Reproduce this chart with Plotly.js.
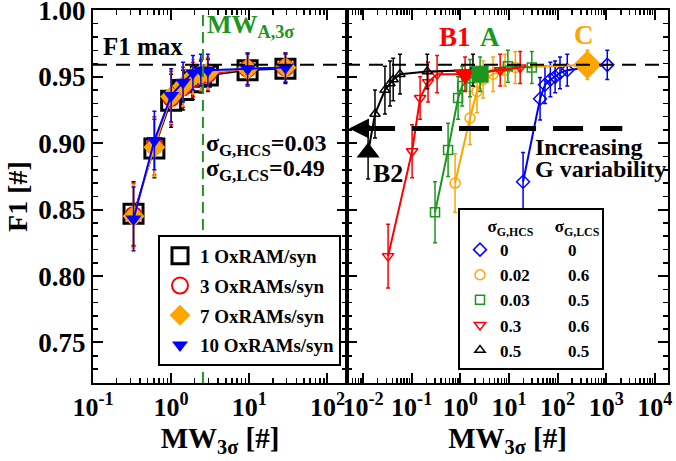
<!DOCTYPE html>
<html><head><meta charset="utf-8">
<script src="https://cdn.plot.ly/plotly-3.0.1.min.js"></script>
<style>html,body{margin:0;padding:0;background:#fff;}#chart{width:676px;height:461px;}</style>
</head><body><div id="chart"></div>
<script>
// ---------- Left panel: F1 vs MW_3sigma for several OxRAMs per synapse ----------
const leftNames = ['1 OxRAM/syn', '3 OxRAMs/syn', '7 OxRAMs/syn', '10 OxRAMs/syn'];
const leftX = [0.33, 0.61, 1.0, 1.42, 1.9, 2.4, 2.95, 9.5, 29];
const f1One = [0.847, 0.896, 0.932, 0.940, 0.946, 0.950, 0.951, 0.955, 0.956];
const f1Three = [0.846, 0.898, 0.934, 0.942, 0.948, 0.951, 0.952, 0.956, 0.957];
const f1Seven = [0.845, 0.897, 0.935, 0.943, 0.950, 0.952, 0.953, 0.956, 0.957];
const f1Ten = [0.843, 0.902, 0.936, 0.946, 0.953, 0.955, 0.955, 0.956, 0.957];
const errLeft = [0.024, 0.022, 0.020, 0.015, 0.013, 0.012, 0.012, 0.012, 0.011];

// ---------- Right panel: F1 vs MW_3sigma for several conductance variabilities ----------
const sigHCS = ['0', '0.02', '0.03', '0.3', '0.5'];
const sigLCS = ['0', '0.6', '0.5', '0.6', '0.5'];
const xBlue = [19.5, 43.6, 55, 71, 89, 112, 158, 1050];
const f1Blue = [0.871, 0.9335, 0.944, 0.948, 0.950, 0.953, 0.955, 0.959];
const errBlue = [0.022, 0.016, 0.014, 0.013, 0.012, 0.012, 0.012, 0.011];
const xOrange = [0.78, 1.58, 2.2, 2.95, 4.7, 8.3, 13.5, 410];
const f1Orange = [0.870, 0.919, 0.939, 0.948, 0.952, 0.955, 0.957, 0.959];
const errOrange = [0.022, 0.020, 0.016, 0.014, 0.013, 0.012, 0.012, 0.011];
const xGreen = [0.302, 0.56, 0.9, 1.09, 1.58, 2.55, 9.5, 29.5];
const f1Green = [0.848, 0.895, 0.934, 0.943, 0.949, 0.952, 0.958, 0.957];
const errGreen = [0.023, 0.020, 0.016, 0.015, 0.014, 0.013, 0.012, 0.012];
const xRed = [0.0327, 0.102, 0.149, 0.217, 0.333, 1.25, 6.6, 17];
const f1Red = [0.815, 0.894, 0.934, 0.946, 0.952, 0.952, 0.955, 0.957];
const errRed = [0.024, 0.020, 0.016, 0.015, 0.014, 0.013, 0.012, 0.012];
const xBlack = [0.0127, 0.0176, 0.0282, 0.0359, 0.0417, 0.0575, 0.209, 1.82];
const f1Black = [0.893, 0.922, 0.940, 0.945, 0.948, 0.952, 0.954, 0.955];
const errBlack = [0.020, 0.018, 0.018, 0.017, 0.016, 0.015, 0.013, 0.012];

// highlighted operating points (indices into the series above)
const idxB2 = 0, idxB1 = 5, idxA = 5, idxC = 7;

// reference levels
const f1Max = 0.959;
const f1Variability = 0.911;
const mwA = xGreen[idxA];

// tick labels
const leftTickVals = [0.1, 1, 10, 100];
const leftTickText = ['10<sup>-1</sup>', '10<sup>0</sup>', '10<sup>1</sup>', '10<sup>2</sup>'];
const rightTickVals = [0.01, 0.1, 1, 10, 100, 1000, 10000];
const rightTickText = ['10<sup>-2</sup>', '10<sup>-1</sup>', '10<sup>0</sup>', '10<sup>1</sup>', '10<sup>2</sup>', '10<sup>3</sup>', '10<sup>4</sup>'];
const yTickVals = [0.75, 0.80, 0.85, 0.90, 0.95, 1.00];
const yTickText = ['0.75', '0.80', '0.85', '0.90', '0.95', '1.00'];

// ---------- build traces ----------
const FONT = 'Liberation Serif, Times New Roman, serif';
const traces = [];
function addSeries(x, y, err, color, symbol, size, lw, name, legendId, lineW) {
  const xa = legendId === 'legend' ? 'x' : 'x2', ya = legendId === 'legend' ? 'y' : 'y2';
  traces.push({
    x: x, y: y, type: 'scatter', mode: 'markers', name: name,
    xaxis: xa, yaxis: ya, legend: legendId, legendgroup: name,
    marker: {symbol: symbol, size: size, color: color, line: {color: color, width: lw}},
    error_y: {type: 'data', array: err, visible: true, color: color, thickness: 1.5, width: 2},
    cliponaxis: false
  });
  traces.push({
    x: x, y: y, type: 'scatter', mode: 'lines', showlegend: false,
    xaxis: xa, yaxis: ya, line: {color: color, width: lineW}, hoverinfo: 'skip'
  });
}
addSeries(leftX, f1One, errLeft, '#000000', 'square-open', 19, 3, leftNames[0], 'legend', 1.5);
addSeries(leftX, f1Three, errLeft, '#ff0000', 'circle-open', 16, 2, leftNames[1], 'legend', 1.5);
addSeries(leftX, f1Seven, errLeft, '#ffa500', 'diamond', 17, 0, leftNames[2], 'legend', 1.5);
addSeries(leftX, f1Ten, errLeft, '#0000ff', 'triangle-down', 14, 0, leftNames[3], 'legend', 2);

function pad(s, n) { return s + '\u00a0'.repeat(n); }
const padCounts = [14, 9, 9, 11, 11];
const rNames = sigHCS.map((s, i) => pad(s, padCounts[i]) + sigLCS[i]);
addSeries(xBlue, f1Blue, errBlue, '#0000ff', 'diamond-open', 10, 1.5, rNames[0], 'legend2', 2);
addSeries(xOrange, f1Orange, errOrange, '#ffa500', 'circle-open', 10, 1.5, rNames[1], 'legend2', 2);
addSeries(xGreen, f1Green, errGreen, '#1e961e', 'square-open', 9, 1.5, rNames[2], 'legend2', 2);
addSeries(xRed, f1Red, errRed, '#ff0000', 'triangle-down-open', 10, 1.5, rNames[3], 'legend2', 2);
addSeries(xBlack, f1Black, errBlack, '#000000', 'triangle-up-open', 9, 1.5, rNames[4], 'legend2', 2);

// highlighted points
function addHighlight(x, y, color, symbol, size) {
  traces.push({x: [x], y: [y], type: 'scatter', mode: 'markers', showlegend: false,
    xaxis: 'x2', yaxis: 'y2', marker: {symbol: symbol, size: size, color: color}, cliponaxis: false});
}
addHighlight(xBlack[idxB2], f1Black[idxB2], '#000000', 'triangle-up', 20);
addHighlight(xRed[idxB1], f1Red[idxB1], '#ff0000', 'triangle-down', 20);
addHighlight(xGreen[idxA], f1Green[idxA], '#1e961e', 'square', 17);
addHighlight(xOrange[idxC], f1Orange[idxC], '#ffa500', 'diamond', 22);

// ---------- layout ----------
const W = 676, H = 461, ML = 93, MR = 8, MT = 10, MB = 78;
const PW = W - ML - MR, PH = H - MT - MB;
const split = (347 - ML) / PW;
function px(xp) { return (xp - ML) / PW; }
function py(yp) { return 1 - (yp - MT) / PH; }

const axCommon = {
  showline: true, linecolor: '#000', linewidth: 2, mirror: 'allticks',
  ticks: 'inside', ticklen: 10, tickwidth: 2, tickcolor: '#000',
  showgrid: false, zeroline: false, ticklabeloverflow: 'allow',
  tickfont: {family: FONT, size: 26, color: '#000', weight: 'bold'}
};
const minorX = {ticks: 'inside', ticklen: 5, tickwidth: 1.5, tickcolor: '#000', tickmode: 'linear', dtick: 'D1', showgrid: false};
const minorY = {ticks: 'inside', ticklen: 5, tickwidth: 1.5, tickcolor: '#000', tickmode: 'linear', tick0: 0, dtick: 0.01, showgrid: false};

function ann(x, y, text, size, color, xa) {
  return {xref: 'paper', yref: 'paper', x: px(x), y: py(y), xanchor: xa || 'center', yanchor: 'middle',
    text: text, showarrow: false, font: {size: size, color: color}};
}

const layout = {
  width: W, height: H,
  margin: {l: ML, r: MR, t: MT, b: MB},
  paper_bgcolor: '#fff', plot_bgcolor: '#fff',
  font: {family: FONT, color: '#000', size: 20, weight: 'bold'},
  showlegend: true,
  xaxis: Object.assign({}, axCommon, {
    type: 'log', domain: [0, split], range: [-1.0, 2.25], anchor: 'y',
    tickmode: 'array', tickvals: leftTickVals, ticktext: leftTickText, minor: minorX,
    title: {text: 'MW<sub>3σ</sub> [#]', font: {family: FONT, size: 29, weight: 'bold'}, standoff: 2}
  }),
  xaxis2: Object.assign({}, axCommon, {
    type: 'log', domain: [split, 1], range: [-2.33, 4.27], anchor: 'y2',
    tickmode: 'array', tickvals: rightTickVals, ticktext: rightTickText, minor: minorX,
    title: {text: 'MW<sub>3σ</sub> [#]', font: {family: FONT, size: 29, weight: 'bold'}, standoff: 2}
  }),
  yaxis: Object.assign({}, axCommon, {
    range: [0.7195, 1.0003], anchor: 'x', tickmode: 'array', tickvals: yTickVals, ticktext: yTickText,
    minor: minorY, tickfont: {family: FONT, size: 27, color: '#000', weight: 'bold'},
    title: {text: 'F1 [#]', font: {family: FONT, size: 28, weight: 'bold'}, standoff: 3}
  }),
  yaxis2: Object.assign({}, axCommon, {
    range: [0.7195, 1.0003], anchor: 'x2', tickmode: 'array', tickvals: yTickVals, minor: minorY, showticklabels: false
  }),
  legend: {
    x: px(158), y: py(235), xanchor: 'left', yanchor: 'top',
    bgcolor: '#fff', bordercolor: '#000', borderwidth: 2,
    font: {family: FONT, size: 19, weight: 'bold'}, tracegroupgap: 2, itemwidth: 30
  },
  legend2: {
    x: px(458), y: py(208), xanchor: 'left', yanchor: 'top',
    bgcolor: '#fff', bordercolor: '#000', borderwidth: 2,
    font: {family: FONT, size: 17, weight: 'bold'}, tracegroupgap: 0, itemwidth: 30,
    title: {text: '\u00a0\u00a0\u00a0\u00a0\u00a0\u00a0σ<sub>G,HCS</sub>\u00a0\u00a0\u00a0\u00a0\u00a0σ<sub>G,LCS</sub>', font: {family: FONT, size: 17, weight: 'bold'}}
  },
  shapes: [
    {type: 'line', xref: 'paper', x0: 0, x1: 1, yref: 'y', y0: f1Max, y1: f1Max,
     line: {color: '#000', width: 2, dash: '14px,9px'}},
    {type: 'line', xref: 'x', x0: mwA, x1: mwA, yref: 'paper', y0: 0, y1: 1,
     line: {color: '#1e961e', width: 2, dash: '11px,6px'}},
    {type: 'line', xref: 'x2', x0: 0.011, x1: 2140, yref: 'y2', y0: f1Variability, y1: f1Variability,
     line: {color: '#000', width: 5, dash: '30px,17px'}}
  ],
  annotations: [
    {xref: 'paper', yref: 'y2', x: px(349), y: f1Variability, ax: 20, ay: 0, text: '', showarrow: true,
     arrowhead: 2, arrowsize: 1, arrowwidth: 4, arrowcolor: '#000'},
    ann(143, 47, 'F1 max', 25, '#000'),
    {xref: 'paper', yref: 'paper', x: px(205), y: py(8), xanchor: 'left', yanchor: 'top',
     text: 'MW<sub>A,3σ</sub>', showarrow: false, font: {size: 26, color: '#1e961e'}},
    ann(204, 145, 'σ<sub>G,HCS</sub>=0.03', 24, '#000', 'left'),
    ann(204, 170, 'σ<sub>G,LCS</sub>=0.49', 24, '#000', 'left'),
    ann(455, 37, 'B1', 27, '#ff0000'),
    ann(490, 37, 'A', 27, '#1e961e'),
    ann(584, 35, 'C', 27, '#ffa500'),
    ann(388, 173, 'B2', 26, '#000'),
    ann(533, 147, 'Increasing', 24, '#000', 'left'),
    ann(533, 169, 'G variability', 24, '#000', 'left')
  ]
};

Plotly.newPlot('chart', traces, layout, {displayModeBar: false, staticPlot: true});
</script>
</body></html>
